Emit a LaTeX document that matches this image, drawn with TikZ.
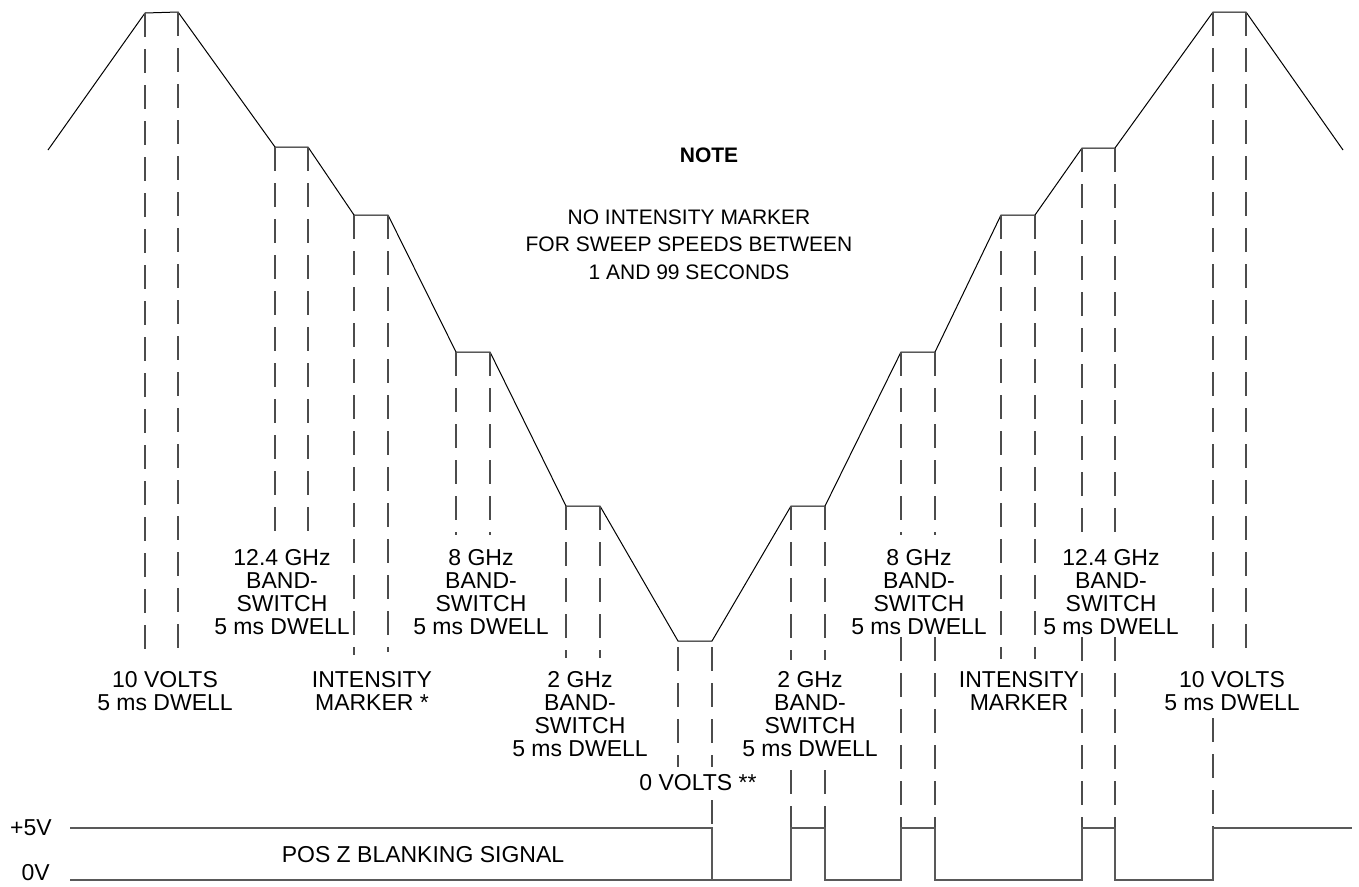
\documentclass[tikz,border=0pt]{standalone}
\usepackage{fontspec}
\setmainfont{Liberation Sans}
\begin{document}
\begin{tikzpicture}[x=1pt,y=-1pt,
  wave/.style={black,line width=1pt,line join=miter},
  guide/.style={draw=black!70,line width=1.1pt,dash pattern=on 24pt off 12pt},
  blank/.style={draw=black!65,line width=1.4pt},
  lbl/.style={font=\fontsize{23}{23}\selectfont,align=center,inner sep=0pt},
  notetxt/.style={font=\fontsize{21}{27.5}\selectfont,align=center,inner sep=0pt}]
\useasboundingbox (0,0) rectangle (1359,886);
% sweep waveform
\draw[wave] (48,150) -- (145,13) -- (178,12) -- (275,147) -- (308,147) -- (354,215) -- (388,215)
  -- (456,352) -- (490,352) -- (566,506) -- (600,506) -- (678,641) -- (712,641)
  -- (791,506) -- (825,506) -- (901,352) -- (935,352) -- (1001,215) -- (1035,215)
  -- (1082,148) -- (1115,148) -- (1213,12) -- (1246,12) -- (1343,150);
% dashed guide lines
\foreach \x/\a/\b in {145/13/657,178/12/657,275/147/535,308/147/535,354/215/655,388/215/652,
  456/352/535,490/352/535,566/506/658,600/506/658,678/647/767,712/647/767,
  791/506/660,825/506/660,901/352/535,935/352/535,1001/215/659,1035/215/659,
  1082/148/535,1115/148/535,1213/12/653,1246/12/653}
  \draw[guide] (\x,\a) -- (\x,\b);
\foreach \x/\a/\b in {712/800/828,791/770/828,825/770/828,901/637/828,935/637/828,
  1082/637/828,1115/637/828,1213/718/828}
  \draw[guide] (\x,\a) -- (\x,\b);
% labels
\node[lbl] (v10l) at (165,691) {10 VOLTS\\5 ms DWELL};
\node[lbl] (g124l) at (282,592.5) {12.4 GHz\\BAND-\\SWITCH\\5 ms DWELL};
\node[lbl] (iml) at (372,691) {INTENSITY\\MARKER *};
\node[lbl] (g8l) at (481,592.5) {8 GHz\\BAND-\\SWITCH\\5 ms DWELL};
\node[lbl] (g2l) at (580,714) {2 GHz\\BAND-\\SWITCH\\5 ms DWELL};
\node[lbl] (v0) at (698,783) {0 VOLTS **};
\node[lbl] (g2r) at (810,714) {2 GHz\\BAND-\\SWITCH\\5 ms DWELL};
\node[lbl] (g8r) at (919,592.5) {8 GHz\\BAND-\\SWITCH\\5 ms DWELL};
\node[lbl] (imr) at (1019,691) {INTENSITY\\MARKER};
\node[lbl] (g124r) at (1111,592.5) {12.4 GHz\\BAND-\\SWITCH\\5 ms DWELL};
\node[lbl] (v10r) at (1232,691) {10 VOLTS\\5 ms DWELL};
% note
\node[notetxt,font=\fontsize{21}{27.5}\selectfont\bfseries] (note) at (709,155) {NOTE};
\node[notetxt] (notebody) at (689,244.5) {NO INTENSITY MARKER\\FOR SWEEP SPEEDS BETWEEN\\1 AND 99 SECONDS};
% blanking signal
\node[lbl,anchor=east] (p5) at (52,828) {+5V};
\node[lbl,anchor=east] (z0) at (50,873) {0V};
\node[lbl] (pos) at (423,855) {POS Z BLANKING SIGNAL};
\draw[blank] (70,880) -- (712,880);
\draw[blank] (70,828) -- (712,828) -- (712,880) -- (791,880) -- (791,828) -- (825,828)
  -- (825,880) -- (901,880) -- (901,828) -- (935,828) -- (935,880) -- (1082,880)
  -- (1082,828) -- (1115,828) -- (1115,880) -- (1213,880) -- (1213,828) -- (1352,828);
\end{tikzpicture}
\end{document}
